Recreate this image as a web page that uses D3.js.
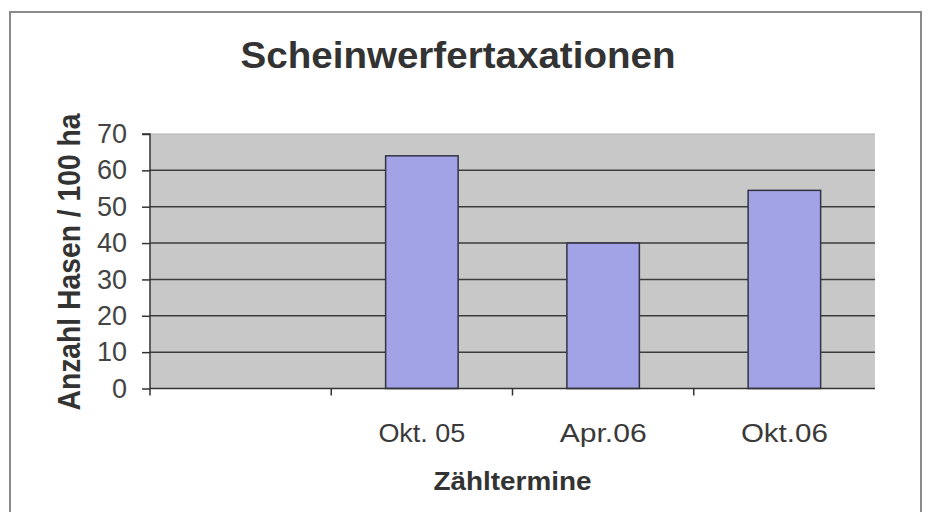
<!DOCTYPE html>
<html>
<head>
<meta charset="utf-8">
<script src="https://cdn.jsdelivr.net/npm/d3@7"></script>
<style>
  html, body { margin: 0; padding: 0; background: #fff; }
  svg { display: block; font-family: "Liberation Sans", Arial, sans-serif; }
</style>
</head>
<body>
<svg id="chart" width="928" height="512"></svg>
<script>
// ---- data ----
const categories = ["", "Okt. 05", "Apr.06", "Okt.06"];
const values = [null, 64, 40, 54.5];
const yTicks = [0, 10, 20, 30, 40, 50, 60, 70];
const title = "Scheinwerfertaxationen";
const xTitle = "Zähltermine";
const yTitle = "Anzahl Hasen / 100 ha";

const svg = d3.select("#chart");
const plot = { left: 150, right: 875, top: 134, bottom: 388.5 };

// outer frame
svg.append("rect")
  .attr("x", 10).attr("y", 12).attr("width", 911).attr("height", 520)
  .attr("fill", "#fff").attr("stroke", "#8a8a8a").attr("stroke-width", 2);

const x = d3.scaleBand().domain(categories).range([plot.left, plot.right]).padding(0);
const y = d3.scaleLinear().domain([0, 70]).range([plot.bottom, plot.top]);

// plot background
svg.append("rect")
  .attr("x", plot.left).attr("y", plot.top)
  .attr("width", plot.right - plot.left).attr("height", plot.bottom - plot.top)
  .attr("fill", "#c8c8c8");
svg.append("line")
  .attr("x1", plot.left).attr("x2", plot.right)
  .attr("y1", plot.top).attr("y2", plot.top)
  .attr("stroke", "#b0b0b0").attr("stroke-width", 1);

// gridlines
svg.append("g").selectAll("line")
  .data(yTicks.filter(t => t > 0 && t < 70))
  .join("line")
  .attr("x1", plot.left).attr("x2", plot.right)
  .attr("y1", d => y(d)).attr("y2", d => y(d))
  .attr("stroke", "#3c3c3c").attr("stroke-width", 1.5);

// bars
const bw = x.bandwidth() * 0.4;
svg.append("g").selectAll("rect")
  .data(categories.map((c, i) => ({ c, v: values[i] })).filter(d => d.v != null))
  .join("rect")
  .attr("x", d => x(d.c) + x.bandwidth() / 2 - bw / 2)
  .attr("y", d => y(d.v))
  .attr("width", bw)
  .attr("height", d => y(0) - y(d.v))
  .attr("fill", "#a2a2e6")
  .attr("stroke", "#333344").attr("stroke-width", 1.5);

// y axis
const yAxis = d3.axisLeft(y).tickValues(yTicks).tickSize(8).tickPadding(15);
const gy = svg.append("g").attr("transform", `translate(${plot.left},0)`).call(yAxis);
gy.attr("font-size", 27).attr("font-family", "'Liberation Sans', Arial, sans-serif");
gy.select(".domain").attr("stroke", "#333").attr("stroke-width", 1.5).attr("d", `M-8,${plot.top}H0V${plot.bottom + 7}`);
gy.selectAll(".tick line").attr("stroke", "#333").attr("stroke-width", 1.5);
gy.selectAll(".tick text").attr("font-size", 27).attr("fill", "#444");

// x axis line
svg.append("line")
  .attr("x1", plot.left).attr("x2", plot.right)
  .attr("y1", plot.bottom).attr("y2", plot.bottom)
  .attr("stroke", "#333").attr("stroke-width", 1.5);
svg.append("g").selectAll("line")
  .data(categories.slice(1))
  .join("line")
  .attr("x1", d => x(d)).attr("x2", d => x(d))
  .attr("y1", plot.bottom).attr("y2", plot.bottom + 7)
  .attr("stroke", "#333").attr("stroke-width", 1.5);

// x labels
svg.append("g").selectAll("text")
  .data(categories.filter(c => c !== ""))
  .join("text")
  .attr("x", d => x(d) + x.bandwidth() / 2)
  .attr("y", 442)
  .attr("text-anchor", "middle")
  .attr("font-size", 25)
  .attr("fill", "#3a3a3a")
  .attr("textLength", 87)
  .attr("lengthAdjust", "spacingAndGlyphs")
  .text(d => d);

// title
svg.append("text")
  .attr("x", 458).attr("y", 68)
  .attr("text-anchor", "middle")
  .attr("font-size", 37).attr("font-weight", "bold")
  .attr("fill", "#333")
  .attr("textLength", 435).attr("lengthAdjust", "spacingAndGlyphs")
  .text(title);

// x title
svg.append("text")
  .attr("x", (plot.left + plot.right) / 2).attr("y", 490)
  .attr("text-anchor", "middle")
  .attr("font-size", 25).attr("font-weight", "bold")
  .attr("fill", "#333")
  .attr("textLength", 158).attr("lengthAdjust", "spacingAndGlyphs")
  .text(xTitle);

// y title
svg.append("text")
  .attr("transform", "translate(80,262) rotate(-90)")
  .attr("text-anchor", "middle")
  .attr("font-size", 32).attr("font-weight", "bold")
  .attr("fill", "#333")
  .attr("textLength", 297).attr("lengthAdjust", "spacingAndGlyphs")
  .text(yTitle);
</script>
</body>
</html>
